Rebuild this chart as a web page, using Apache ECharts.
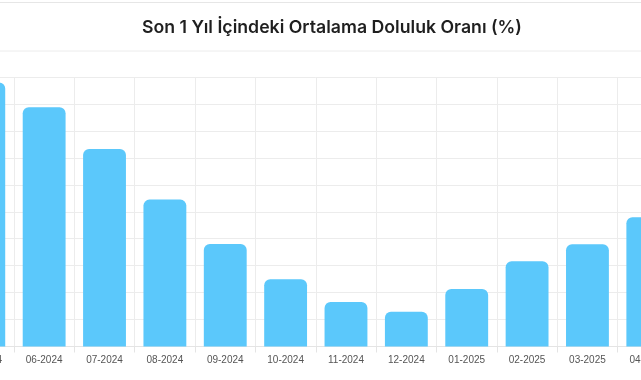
<!DOCTYPE html>
<html>
<head>
<meta charset="utf-8">
<script src="https://cdn.jsdelivr.net/npm/echarts@6/dist/echarts.min.js"></script>
<style>
html,body{margin:0;padding:0;width:641px;height:380px;overflow:hidden;background:#fff;position:relative;}
#c{position:absolute;left:-60px;top:0;width:760px;height:380px;}
</style>
</head>
<body>
<div id="c"></div>
<script>
const titleText = 'Son 1 Yıl İçindeki Ortalama Doluluk Oranı (%)';
const categories = ['05-2024','06-2024','07-2024','08-2024','09-2024','10-2024','11-2024','12-2024','01-2025','02-2025','03-2025','04-2025'];
const values = [98, 88.8, 73.3, 54.5, 38, 25, 16.5, 12.9, 21.3, 31.6, 37.9, 48];

const chart = echarts.init(document.getElementById('c'), null, {renderer:'canvas'});
chart.setOption({
  animation:false,
  backgroundColor:'#ffffff',
  graphic:[
    {type:'line', shape:{x1:0,y1:2.5,x2:760,y2:2.5}, style:{stroke:'#e6e6e6',lineWidth:1}, silent:true},
    {type:'line', shape:{x1:0,y1:51,x2:760,y2:51}, style:{stroke:'#ececec',lineWidth:1}, silent:true},
    {type:'text', x:392, y:28, style:{text:titleText, x:0, y:0, textAlign:'center', textVerticalAlign:'middle', fontFamily:'Inter', fontWeight:600, fontSize:17.7, fill:'#1f1f1f'}}
  ],
  grid:{left:13.6, width:724.4, top:77, height:269.5, containLabel:false},
  xAxis:{
    type:'category',
    data:categories,
    axisLine:{show:true, lineStyle:{color:'#e4e4e4'}},
    axisTick:{show:true, length:6, lineStyle:{color:'#e4e4e4'}},
    axisLabel:{color:'#555', fontSize:10, fontFamily:'Liberation Sans', margin:9},
    splitLine:{show:true, lineStyle:{color:'#ececec'}}
  },
  yAxis:{
    type:'value', min:0, max:100, interval:10,
    axisLabel:{show:false}, axisLine:{show:false}, axisTick:{show:false},
    splitLine:{show:true, lineStyle:{color:'#ececec'}}
  },
  series:[{
    type:'bar',
    data:values,
    barWidth:'71%',
    itemStyle:{color:'#5BC8FB', borderRadius:[6,6,0,0]}
  }]
});
</script>
</body>
</html>
